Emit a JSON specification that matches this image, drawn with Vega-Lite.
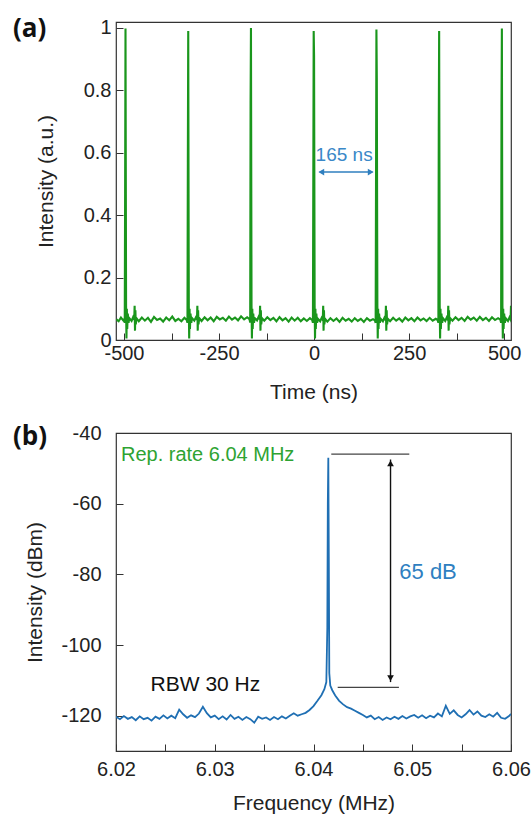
{
  "$schema": "https://vega.github.io/schema/vega-lite/v6.json",
  "padding": {"left": 12, "top": 15, "right": 5, "bottom": 5},
  "background": "white",
  "config": {
    "font": "Liberation Sans",
    "view": {"stroke": "#333333", "strokeWidth": 1.2},
    "axis": {
      "domain": false, "grid": false, "labelFont": "Liberation Sans", "labelFontSize": 20,
      "labelColor": "#222222", "titleFont": "Liberation Sans", "titleFontSize": 21,
      "titleFontWeight": "normal", "titleColor": "#222222", "tickColor": "#333333",
      "tickSize": -7, "tickWidth": 1, "labelFlush": false, "labelOverlap": false
    }
  },
  "datasets": {
    "pulse": [
      {"t": -520, "v": 0.066}, {"t": -514, "v": 0.060}, {"t": -508, "v": 0.072}, {"t": -502, "v": 0.063}, {"t": -500, "v": 0.066},
      {"t": -498, "v": 0.055}, {"t": -497, "v": 0.47}, {"t": -496, "v": 0.998}, {"t": -494.5, "v": 0.11}, {"t": -493.5, "v": 0.005},
      {"t": -492.5, "v": 0.10}, {"t": -491.5, "v": 0.035}, {"t": -490, "v": 0.085}, {"t": -488, "v": 0.055}, {"t": -486, "v": 0.07},
      {"t": -480, "v": 0.061}, {"t": -476, "v": 0.073}, {"t": -473, "v": 0.065}, {"t": -472, "v": 0.11}, {"t": -471, "v": 0.03},
      {"t": -470, "v": 0.095}, {"t": -469, "v": 0.05}, {"t": -467, "v": 0.07}, {"t": -461, "v": 0.060}, {"t": -453, "v": 0.072},
      {"t": -445, "v": 0.062}, {"t": -437, "v": 0.071}, {"t": -429, "v": 0.058}, {"t": -421, "v": 0.074}, {"t": -413, "v": 0.064},
      {"t": -405, "v": 0.069}, {"t": -397, "v": 0.059}, {"t": -389, "v": 0.072}, {"t": -381, "v": 0.063}, {"t": -373, "v": 0.075},
      {"t": -365, "v": 0.061}, {"t": -357, "v": 0.068}, {"t": -349, "v": 0.060}, {"t": -341, "v": 0.071}, {"t": -335, "v": 0.064},
      {"t": -333, "v": 0.055}, {"t": -332, "v": 0.57}, {"t": -331, "v": 0.99}, {"t": -329.5, "v": 0.11}, {"t": -328.5, "v": 0.005},
      {"t": -327.5, "v": 0.10}, {"t": -326.5, "v": 0.035}, {"t": -325, "v": 0.085}, {"t": -323, "v": 0.055}, {"t": -321, "v": 0.07},
      {"t": -315, "v": 0.062}, {"t": -311, "v": 0.072}, {"t": -308, "v": 0.066}, {"t": -307, "v": 0.11}, {"t": -306, "v": 0.03},
      {"t": -305, "v": 0.095}, {"t": -304, "v": 0.05}, {"t": -302, "v": 0.07}, {"t": -296, "v": 0.061}, {"t": -288, "v": 0.073},
      {"t": -280, "v": 0.063}, {"t": -272, "v": 0.072}, {"t": -264, "v": 0.060}, {"t": -256, "v": 0.074}, {"t": -248, "v": 0.066},
      {"t": -240, "v": 0.071}, {"t": -232, "v": 0.062}, {"t": -224, "v": 0.075}, {"t": -216, "v": 0.065}, {"t": -208, "v": 0.072},
      {"t": -200, "v": 0.063}, {"t": -192, "v": 0.076}, {"t": -184, "v": 0.066}, {"t": -176, "v": 0.073}, {"t": -170, "v": 0.067},
      {"t": -168, "v": 0.056}, {"t": -167, "v": 0.76}, {"t": -166, "v": 1.0}, {"t": -164.5, "v": 0.11}, {"t": -163.5, "v": 0.005},
      {"t": -162.5, "v": 0.10}, {"t": -161.5, "v": 0.035}, {"t": -160, "v": 0.085}, {"t": -158, "v": 0.055}, {"t": -156, "v": 0.07},
      {"t": -150, "v": 0.063}, {"t": -146, "v": 0.074}, {"t": -143, "v": 0.066}, {"t": -142, "v": 0.11}, {"t": -141, "v": 0.03},
      {"t": -140, "v": 0.095}, {"t": -139, "v": 0.05}, {"t": -137, "v": 0.07}, {"t": -131, "v": 0.062}, {"t": -123, "v": 0.073},
      {"t": -115, "v": 0.064}, {"t": -107, "v": 0.071}, {"t": -99, "v": 0.060}, {"t": -91, "v": 0.073}, {"t": -83, "v": 0.063},
      {"t": -75, "v": 0.070}, {"t": -67, "v": 0.059}, {"t": -59, "v": 0.072}, {"t": -51, "v": 0.062}, {"t": -43, "v": 0.071},
      {"t": -35, "v": 0.060}, {"t": -27, "v": 0.069}, {"t": -19, "v": 0.061}, {"t": -11, "v": 0.070}, {"t": -5, "v": 0.064},
      {"t": -3, "v": 0.055}, {"t": -1, "v": 0.99}, {"t": 0, "v": 0.91}, {"t": 1.5, "v": 0.11}, {"t": 2.5, "v": 0.005},
      {"t": 3.5, "v": 0.10}, {"t": 4.5, "v": 0.035}, {"t": 6, "v": 0.085}, {"t": 8, "v": 0.055}, {"t": 10, "v": 0.068},
      {"t": 16, "v": 0.060}, {"t": 20, "v": 0.071}, {"t": 23, "v": 0.064}, {"t": 24, "v": 0.11}, {"t": 25, "v": 0.03},
      {"t": 26, "v": 0.095}, {"t": 27, "v": 0.05}, {"t": 29, "v": 0.068}, {"t": 35, "v": 0.059}, {"t": 43, "v": 0.070},
      {"t": 51, "v": 0.061}, {"t": 59, "v": 0.069}, {"t": 67, "v": 0.058}, {"t": 75, "v": 0.071}, {"t": 83, "v": 0.062},
      {"t": 91, "v": 0.068}, {"t": 99, "v": 0.059}, {"t": 107, "v": 0.070}, {"t": 115, "v": 0.061}, {"t": 123, "v": 0.068},
      {"t": 131, "v": 0.058}, {"t": 139, "v": 0.070}, {"t": 147, "v": 0.062}, {"t": 155, "v": 0.067}, {"t": 160, "v": 0.063},
      {"t": 162, "v": 0.055}, {"t": 164, "v": 0.995}, {"t": 165, "v": 0.84}, {"t": 166.5, "v": 0.11}, {"t": 167.5, "v": 0.005},
      {"t": 168.5, "v": 0.10}, {"t": 169.5, "v": 0.035}, {"t": 171, "v": 0.085}, {"t": 173, "v": 0.055}, {"t": 175, "v": 0.068},
      {"t": 181, "v": 0.060}, {"t": 185, "v": 0.071}, {"t": 188, "v": 0.064}, {"t": 189, "v": 0.11}, {"t": 190, "v": 0.03},
      {"t": 191, "v": 0.095}, {"t": 192, "v": 0.05}, {"t": 194, "v": 0.068}, {"t": 200, "v": 0.060}, {"t": 208, "v": 0.071},
      {"t": 216, "v": 0.062}, {"t": 224, "v": 0.069}, {"t": 232, "v": 0.059}, {"t": 240, "v": 0.072}, {"t": 248, "v": 0.063},
      {"t": 256, "v": 0.070}, {"t": 264, "v": 0.060}, {"t": 272, "v": 0.072}, {"t": 280, "v": 0.063}, {"t": 288, "v": 0.069},
      {"t": 296, "v": 0.061}, {"t": 304, "v": 0.071}, {"t": 312, "v": 0.062}, {"t": 320, "v": 0.068}, {"t": 325, "v": 0.064},
      {"t": 327, "v": 0.055}, {"t": 328, "v": 0.67}, {"t": 329, "v": 0.99}, {"t": 330.5, "v": 0.11}, {"t": 331.5, "v": 0.005},
      {"t": 332.5, "v": 0.10}, {"t": 333.5, "v": 0.035}, {"t": 335, "v": 0.085}, {"t": 337, "v": 0.055}, {"t": 339, "v": 0.07},
      {"t": 345, "v": 0.061}, {"t": 349, "v": 0.072}, {"t": 352, "v": 0.065}, {"t": 353, "v": 0.11}, {"t": 354, "v": 0.03},
      {"t": 355, "v": 0.095}, {"t": 356, "v": 0.05}, {"t": 358, "v": 0.07}, {"t": 364, "v": 0.062}, {"t": 372, "v": 0.073},
      {"t": 380, "v": 0.064}, {"t": 388, "v": 0.071}, {"t": 396, "v": 0.061}, {"t": 404, "v": 0.074}, {"t": 412, "v": 0.065},
      {"t": 420, "v": 0.072}, {"t": 428, "v": 0.062}, {"t": 436, "v": 0.074}, {"t": 444, "v": 0.064}, {"t": 452, "v": 0.071},
      {"t": 460, "v": 0.061}, {"t": 468, "v": 0.073}, {"t": 476, "v": 0.064}, {"t": 484, "v": 0.070}, {"t": 490, "v": 0.065},
      {"t": 492, "v": 0.055}, {"t": 493, "v": 0.75}, {"t": 494, "v": 0.998}, {"t": 495.5, "v": 0.11}, {"t": 496.5, "v": 0.005},
      {"t": 497.5, "v": 0.10}, {"t": 498.5, "v": 0.035}, {"t": 500, "v": 0.085}, {"t": 502, "v": 0.055}, {"t": 504, "v": 0.07},
      {"t": 510, "v": 0.061}, {"t": 514, "v": 0.072}, {"t": 517, "v": 0.065}, {"t": 518, "v": 0.11}
    ],
    "spectrum": [
      {"f": 6.0200, "v": -120.3}, {"f": 6.0204, "v": -121.0}, {"f": 6.0208, "v": -120.1}, {"f": 6.0212, "v": -120.9},
      {"f": 6.0216, "v": -120.4}, {"f": 6.0220, "v": -121.3}, {"f": 6.0224, "v": -120.2}, {"f": 6.0228, "v": -121.0},
      {"f": 6.0232, "v": -120.6}, {"f": 6.0236, "v": -121.4}, {"f": 6.0240, "v": -120.3}, {"f": 6.0244, "v": -120.9},
      {"f": 6.0248, "v": -119.9}, {"f": 6.0252, "v": -120.8}, {"f": 6.0256, "v": -120.0}, {"f": 6.0260, "v": -120.7},
      {"f": 6.0264, "v": -118.3}, {"f": 6.0268, "v": -119.6}, {"f": 6.0272, "v": -120.6}, {"f": 6.0276, "v": -119.9},
      {"f": 6.0280, "v": -120.4}, {"f": 6.0284, "v": -119.4}, {"f": 6.0288, "v": -117.5}, {"f": 6.0292, "v": -119.3},
      {"f": 6.0296, "v": -120.5}, {"f": 6.0300, "v": -120.0}, {"f": 6.0304, "v": -121.0}, {"f": 6.0308, "v": -120.2},
      {"f": 6.0312, "v": -121.1}, {"f": 6.0316, "v": -119.8}, {"f": 6.0320, "v": -120.9}, {"f": 6.0324, "v": -120.3},
      {"f": 6.0328, "v": -121.2}, {"f": 6.0332, "v": -120.4}, {"f": 6.0336, "v": -121.0}, {"f": 6.0340, "v": -122.0},
      {"f": 6.0344, "v": -120.3}, {"f": 6.0348, "v": -120.9}, {"f": 6.0352, "v": -120.5}, {"f": 6.0356, "v": -121.2},
      {"f": 6.0360, "v": -120.4}, {"f": 6.0364, "v": -121.0}, {"f": 6.0368, "v": -120.2}, {"f": 6.0372, "v": -120.8},
      {"f": 6.0376, "v": -120.0}, {"f": 6.0380, "v": -119.3}, {"f": 6.0384, "v": -120.0}, {"f": 6.0388, "v": -119.6},
      {"f": 6.0392, "v": -119.2}, {"f": 6.0396, "v": -118.4}, {"f": 6.0400, "v": -117.3}, {"f": 6.0404, "v": -115.8},
      {"f": 6.0408, "v": -114.2}, {"f": 6.0411, "v": -112.5}, {"f": 6.0413, "v": -110.5}, {"f": 6.0414, "v": -95},
      {"f": 6.04145, "v": -60}, {"f": 6.0415, "v": -47}, {"f": 6.04155, "v": -75}, {"f": 6.0416, "v": -108},
      {"f": 6.0417, "v": -111.5}, {"f": 6.0419, "v": -112.8}, {"f": 6.0422, "v": -114.3}, {"f": 6.0426, "v": -115.8},
      {"f": 6.0430, "v": -116.8}, {"f": 6.0434, "v": -117.6}, {"f": 6.0438, "v": -118.0}, {"f": 6.0442, "v": -118.6},
      {"f": 6.0446, "v": -119.2}, {"f": 6.0450, "v": -119.8}, {"f": 6.0454, "v": -120.5}, {"f": 6.0458, "v": -120.0},
      {"f": 6.0462, "v": -121.0}, {"f": 6.0466, "v": -120.4}, {"f": 6.0470, "v": -121.2}, {"f": 6.0474, "v": -120.5},
      {"f": 6.0478, "v": -121.0}, {"f": 6.0482, "v": -120.3}, {"f": 6.0486, "v": -120.9}, {"f": 6.0490, "v": -120.1},
      {"f": 6.0494, "v": -120.8}, {"f": 6.0498, "v": -120.2}, {"f": 6.0502, "v": -119.8}, {"f": 6.0506, "v": -120.6},
      {"f": 6.0510, "v": -119.9}, {"f": 6.0514, "v": -120.7}, {"f": 6.0518, "v": -120.0}, {"f": 6.0522, "v": -120.5},
      {"f": 6.0526, "v": -119.4}, {"f": 6.0530, "v": -120.2}, {"f": 6.0534, "v": -117.2}, {"f": 6.0538, "v": -119.5},
      {"f": 6.0542, "v": -118.5}, {"f": 6.0546, "v": -119.8}, {"f": 6.0550, "v": -120.5}, {"f": 6.0554, "v": -119.6},
      {"f": 6.0558, "v": -118.4}, {"f": 6.0562, "v": -119.7}, {"f": 6.0566, "v": -118.8}, {"f": 6.0570, "v": -120.0},
      {"f": 6.0574, "v": -120.4}, {"f": 6.0578, "v": -119.6}, {"f": 6.0582, "v": -120.3}, {"f": 6.0586, "v": -119.2},
      {"f": 6.0590, "v": -120.6}, {"f": 6.0594, "v": -120.9}, {"f": 6.0598, "v": -120.1}, {"f": 6.0600, "v": -119.5}
    ]
  },
  "vconcat": [
    {
      "width": 395, "height": 318,
      "title": {"text": "(a)", "anchor": "start", "frame": "group", "font": "Open Sans", "fontSize": 26, "fontWeight": "bold", "color": "#111111", "baseline": "middle", "dx": -103, "dy": 41},
      "layer": [
        {
          "data": {"name": "pulse"},
          "mark": {"type": "line", "color": "#1a961c", "strokeWidth": 2.1, "clip": true},
          "encoding": {
            "x": {"field": "t", "type": "quantitative", "scale": {"domain": [-521, 518], "nice": false, "zero": false},
              "axis": {"title": "Time (ns)", "values": [-500, -375, -250, -125, 0, 125, 250, 375, 500], "labelExpr": "datum.value % 250 == 0 ? '' + datum.value : ''", "labelOverlap": false, "labelPadding": 10, "titlePadding": 18}},
            "y": {"field": "v", "type": "quantitative", "scale": {"domain": [0, 1.019], "nice": false, "zero": false},
              "axis": {"title": "Intensity (a.u.)", "values": [0, 0.1, 0.2, 0.3, 0.4, 0.5, 0.6, 0.7, 0.8, 0.9, 1], "labelExpr": "round(datum.value * 10) % 2 == 0 ? '' + datum.value : ''", "labelOverlap": false, "labelPadding": 12, "titlePadding": 27}}
          }
        },
        {
          "data": {"values": [{"t": 14.5, "t2": 153.7, "v": 0.538}]},
          "mark": {"type": "rule", "color": "#2f7fbf", "strokeWidth": 1.5},
          "encoding": {"x": {"field": "t", "type": "quantitative"}, "x2": {"field": "t2"}, "y": {"field": "v", "type": "quantitative"}}
        },
        {
          "data": {"values": [{"t": 19, "v": 0.538}]},
          "mark": {"type": "point", "shape": "triangle-left", "filled": true, "color": "#2f7fbf", "size": 45, "opacity": 1},
          "encoding": {"x": {"field": "t", "type": "quantitative"}, "y": {"field": "v", "type": "quantitative"}}
        },
        {
          "data": {"values": [{"t": 149, "v": 0.538}]},
          "mark": {"type": "point", "shape": "triangle-right", "filled": true, "color": "#2f7fbf", "size": 45, "opacity": 1},
          "encoding": {"x": {"field": "t", "type": "quantitative"}, "y": {"field": "v", "type": "quantitative"}}
        },
        {
          "data": {"values": [{"t": 79, "v": 0.593, "label": "165 ns"}]},
          "mark": {"type": "text", "color": "#3a88c8", "fontSize": 19, "font": "Liberation Sans", "align": "center", "baseline": "middle"},
          "encoding": {"x": {"field": "t", "type": "quantitative"}, "y": {"field": "v", "type": "quantitative"}, "text": {"field": "label"}}
        }
      ]
    },
    {
      "width": 395, "height": 318,
      "title": {"text": "(b)", "anchor": "start", "frame": "group", "font": "Open Sans", "fontSize": 26, "fontWeight": "bold", "color": "#111111", "baseline": "middle", "dx": -103, "dy": 44},
      "layer": [
        {
          "data": {"name": "spectrum"},
          "mark": {"type": "line", "color": "#1f6fb3", "strokeWidth": 1.8, "clip": true},
          "encoding": {
            "x": {"field": "f", "type": "quantitative", "scale": {"domain": [6.02, 6.06], "nice": false, "zero": false},
              "axis": {"title": "Frequency (MHz)", "values": [6.02, 6.025, 6.03, 6.035, 6.04, 6.045, 6.05, 6.055, 6.06], "labelExpr": "round(datum.value * 1000) % 10 == 0 ? format(datum.value, '.2f') : ''", "labelOverlap": false, "labelPadding": 15, "titlePadding": 13}},
            "y": {"field": "v", "type": "quantitative", "scale": {"domain": [-130, -40], "nice": false, "zero": false},
              "axis": {"title": "Intensity (dBm)", "values": [-120, -110, -100, -90, -80, -70, -60, -50, -40], "labelExpr": "abs(datum.value) % 20 < 1 ? '' + datum.value : ''", "labelOverlap": false, "labelPadding": 22, "titlePadding": 15}}
          }
        },
        {
          "data": {"values": [{"f": 6.0418, "f2": 6.0497, "v": -46}, {"f": 6.04245, "f2": 6.04865, "v": -112}]},
          "mark": {"type": "rule", "color": "#444444", "strokeWidth": 1.2},
          "encoding": {"x": {"field": "f", "type": "quantitative"}, "x2": {"field": "f2"}, "y": {"field": "v", "type": "quantitative"}}
        },
        {
          "data": {"values": [{"f": 6.0478, "v": -47.5}, {"f": 6.0478, "v": -110.5}]},
          "mark": {"type": "line", "color": "#111111", "strokeWidth": 1.4},
          "encoding": {"x": {"field": "f", "type": "quantitative"}, "y": {"field": "v", "type": "quantitative"}}
        },
        {
          "data": {"values": [{"f": 6.0478, "v": -48.6}]},
          "mark": {"type": "point", "shape": "triangle-up", "filled": true, "color": "#111111", "size": 45, "opacity": 1},
          "encoding": {"x": {"field": "f", "type": "quantitative"}, "y": {"field": "v", "type": "quantitative"}}
        },
        {
          "data": {"values": [{"f": 6.0478, "v": -109.4}]},
          "mark": {"type": "point", "shape": "triangle-down", "filled": true, "color": "#111111", "size": 45, "opacity": 1},
          "encoding": {"x": {"field": "f", "type": "quantitative"}, "y": {"field": "v", "type": "quantitative"}}
        },
        {
          "data": {"values": [{"f": 6.0205, "v": -46.2, "label": "Rep. rate 6.04 MHz"}]},
          "mark": {"type": "text", "color": "#2ea332", "fontSize": 20, "font": "Liberation Sans", "align": "left", "baseline": "middle"},
          "encoding": {"x": {"field": "f", "type": "quantitative"}, "y": {"field": "v", "type": "quantitative"}, "text": {"field": "label"}}
        },
        {
          "data": {"values": [{"f": 6.0516, "v": -79.4, "label": "65 dB"}]},
          "mark": {"type": "text", "color": "#2f7fc1", "fontSize": 22, "font": "Liberation Sans", "align": "center", "baseline": "middle"},
          "encoding": {"x": {"field": "f", "type": "quantitative"}, "y": {"field": "v", "type": "quantitative"}, "text": {"field": "label"}}
        },
        {
          "data": {"values": [{"f": 6.0235, "v": -111.2, "label": "RBW 30 Hz"}]},
          "mark": {"type": "text", "color": "#111111", "fontSize": 21, "font": "Liberation Sans", "align": "left", "baseline": "middle"},
          "encoding": {"x": {"field": "f", "type": "quantitative"}, "y": {"field": "v", "type": "quantitative"}, "text": {"field": "label"}}
        }
      ]
    }
  ],
  "spacing": 93,
  "bounds": "flush"
}
